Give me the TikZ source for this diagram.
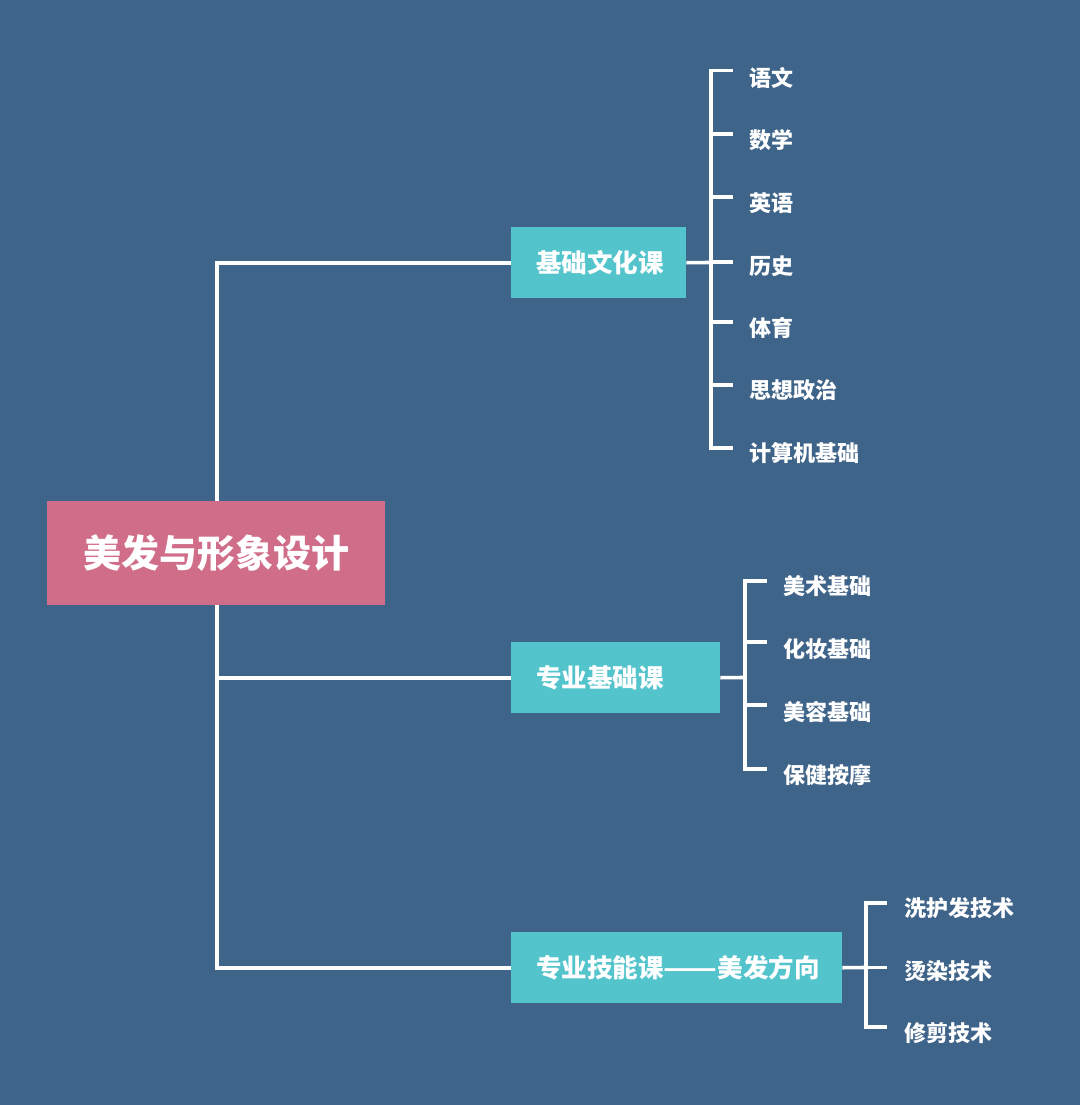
\documentclass[tikz,border=0pt]{standalone}
\usepackage{fontspec}
\newfontfamily\cjk{Noto Sans CJK SC}
\definecolor{bgblue}{HTML}{3F6489}
\definecolor{rootpink}{HTML}{D06E89}
\definecolor{catteal}{HTML}{54C4CC}
\begin{document}
\begin{tikzpicture}[x=1pt,y=-1pt,
  conn/.style={draw=white,line width=3.6pt},
  lbl/.style={anchor=west,inner sep=0pt,text=white,font=\cjk\bfseries\fontsize{22}{26}\selectfont},
  catbox/.style={fill=catteal,anchor=north west,minimum height=71pt,inner xsep=25pt,inner ysep=0pt,align=left,text=white,font=\cjk\bfseries\fontsize{25.5}{30}\selectfont},
  rootbox/.style={fill=rootpink,anchor=north west,minimum width=338pt,minimum height=104pt,inner sep=0pt,text=white,font=\cjk\bfseries\fontsize{38}{44}\selectfont}]
\fill[bgblue] (0,0) rectangle (1080,1105);
\useasboundingbox (0,0) rectangle (1080,1105);

% connectors from root to categories (drawn first, boxes on top)
\coordinate (rtop) at (217,501);
\coordinate (rbot) at (217,605);
\node[catbox,text width=125pt] (c1) at (511,227) {基础文化课};
\node[catbox,text width=159pt] (c2) at (511,642) {专业基础课};
\node[catbox,text width=281pt] (c3) at (511,932) {专业技能课\scalebox{1.23}[1]{——}美发方向};
\draw[conn] (c1.west) -| (rtop);
\draw[conn] (rbot) |- (c2.west);
\draw[conn] (rbot) |- (c3.west);
\node[rootbox] (root) at (47,501) {美发与形象设计};

% bracket 1
\coordinate (j1) at (711,262.5);
\draw[conn] (c1.east) -- (j1);
\draw[conn] (733,70.7) -- (711,70.7) -- (711,447.7) -- (733,447.7);
\foreach \t/\ty/\ly/\nm in {语文/70.7/78/a1,数学/134/140.5/a2,英语/196.7/203/a3,历史/262/266/a4,体育/321.7/328/a5,思想政治/385/390.5/a6,计算机基础/447.7/453/a7}{
  \node[lbl] (\nm) at (749,\ly) {\t};
  \draw[conn] (711,\ty) -- (733,\ty);
}

% bracket 2
\coordinate (j2) at (745,677.5);
\draw[conn] (c2.east) -- (j2);
\draw[conn] (767,580.7) -- (745,580.7) -- (745,769) -- (767,769);
\foreach \t/\ty/\ly/\nm in {美术基础/580.7/586/b1,化妆基础/641.7/649/b2,美容基础/705/712/b3,保健按摩/769/775/b4}{
  \node[lbl] (\nm) at (783,\ly) {\t};
  \draw[conn] (745,\ty) -- (767,\ty);
}

% bracket 3
\coordinate (j3) at (866,967.5);
\draw[conn] (c3.east) -- (j3);
\draw[conn] (887,902.7) -- (866,902.7) -- (866,1026.7) -- (887,1026.7);
\foreach \t/\ty/\ly/\nm in {洗护发技术/902.7/908/d1,烫染技术/967.3/971/d2,修剪技术/1026.7/1033/d3}{
  \node[lbl] (\nm) at (904,\ly) {\t};
  \draw[conn] (866,\ty) -- (887,\ty);
}
\end{tikzpicture}
\end{document}
